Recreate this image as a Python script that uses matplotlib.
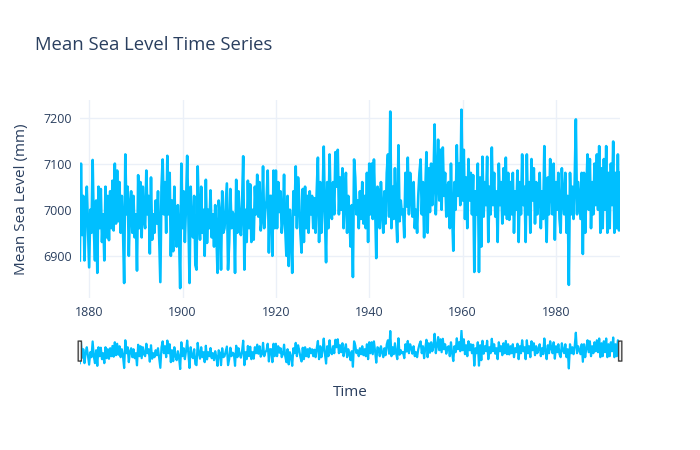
import matplotlib.pyplot as plt
import matplotlib.patches as patches
import numpy as np

plt.rcParams['font.family'] = ['Open Sans', 'DejaVu Sans']

# quarterly mean sea level (mm), one row per year
start_year = 1878
sea_level = [
    [6890, 7100, 6945, 7030],  # 1878
    [6890, 6990, 7050, 6960],
    [6875, 7000, 6950, 7108],  # 1880
    [6960, 6890, 7020, 6863],
    [7050, 6960, 7045, 6930],
    [6990, 6890, 7050, 6940],
    [7030, 6934, 7040, 6960],
    [7063, 6955, 7100, 6970],
    [7085, 6975, 7060, 6950],
    [7030, 6960, 6841, 7120],
    [6990, 7050, 6900, 7010],
    [7040, 6950, 7030, 6940],
    [6990, 6868, 7075, 6960],  # 1890
    [7060, 6940, 7050, 6980],
    [6960, 7085, 6990, 7030],
    [6905, 7070, 6935, 6990],
    [6950, 7020, 6970, 7040],
    [6940, 6843, 7050, 7109],
    [6990, 7060, 6950, 7117],
    [6990, 7080, 6900, 7020],
    [6910, 7050, 6960, 6920],
    [7010, 6950, 6830, 7100],
    [6960, 7040, 6930, 7010],  # 1900
    [7117, 6990, 6841, 7050],
    [6960, 6940, 7030, 6880],
    [6870, 7094, 6990, 6935],
    [7050, 6950, 7000, 6900],
    [7065, 6928, 7000, 6960],
    [7042, 6940, 6990, 6920],
    [7010, 6950, 6863, 7020],
    [6990, 6870, 7040, 6950],
    [6960, 7010, 7057, 6870],
    [6930, 7045, 6960, 6995],  # 1910
    [6985, 6863, 7065, 6950],
    [7040, 6980, 6945, 7010],
    [7116, 6870, 7000, 6930],
    [7063, 6960, 7055, 6930],
    [7000, 6935, 7050, 6990],
    [7076, 6985, 7060, 6955],
    [6980, 7094, 6960, 7000],
    [7020, 7085, 6907, 7030],
    [7030, 6900, 7085, 6960],
    [7085, 6960, 7060, 6995],  # 1920
    [7040, 6950, 6980, 7076],
    [6960, 6900, 7030, 6878],
    [7000, 6955, 6863, 7040],
    [6990, 7094, 6960, 7070],
    [7020, 6950, 6907, 7045],
    [6930, 7050, 6960, 7030],
    [6950, 7040, 6990, 7030],
    [6960, 7025, 6950, 7040],
    [7113, 6930, 7060, 6950],
    [7020, 7137, 6985, 6886],  # 1930
    [7060, 6960, 7120, 7000],
    [6980, 7060, 6990, 7125],
    [7050, 7130, 6990, 7070],
    [7000, 7090, 6960, 7030],
    [7080, 6950, 7030, 6980],
    [6920, 7010, 6854, 7109],
    [7070, 6990, 7020, 6960],
    [7040, 6980, 7060, 6970],
    [7030, 6960, 7080, 6930],
    [7100, 6990, 7100, 6980],  # 1940
    [7109, 7010, 6895, 7050],
    [7040, 6960, 7060, 7000],
    [6950, 7040, 6970, 7080],
    [7120, 6985, 7213, 6960],
    [7050, 6980, 7090, 6990],
    [6930, 7140, 6975, 7020],
    [6990, 7000, 6940, 7080],
    [7007, 7113, 6990, 7080],
    [7040, 6985, 7060, 6960],
    [7000, 6950, 7030, 7080],  # 1950
    [7109, 6990, 7060, 6940],
    [7040, 7125, 6950, 7090],
    [6995, 7100, 7010, 7060],
    [7185, 6990, 7060, 7152],
    [7020, 7130, 7000, 7135],
    [7030, 7080, 6985, 7050],
    [7060, 6960, 7100, 6990],
    [6911, 7060, 7000, 7140],
    [7030, 7100, 7010, 7217],
    [7020, 7130, 6980, 7070],  # 1960
    [6960, 7110, 7020, 7080],
    [6990, 7075, 6865, 7040],
    [6990, 7100, 6865, 7070],
    [6920, 7115, 6985, 7060],
    [7010, 7115, 6930, 7050],
    [6990, 7135, 7010, 7080],
    [6985, 7040, 6930, 7100],
    [7010, 7060, 6970, 7090],
    [6990, 7113, 6980, 7080],
    [6978, 7060, 6990, 7080],  # 1970
    [6950, 7040, 7000, 7085],
    [6930, 7060, 6990, 7120],
    [7010, 7050, 6930, 7120],
    [6990, 7060, 6950, 7110],
    [7020, 7090, 6970, 7060],
    [6990, 7030, 7080, 6960],
    [7040, 6980, 7138, 7010],
    [6930, 7070, 6990, 7110],
    [7040, 6990, 7100, 6935],
    [7060, 7000, 7080, 6980],  # 1980
    [6950, 7090, 7020, 6990],
    [7080, 6950, 7030, 6837],
    [7080, 6990, 7050, 6980],
    [7060, 7196, 6990, 7060],
    [7020, 6980, 7080, 6904],
    [7080, 6950, 7040, 7120],
    [7000, 7110, 6960, 7060],
    [6990, 7100, 7010, 7120],
    [7000, 7138, 6950, 7090],
    [6960, 7110, 7000, 7138],  # 1990
    [6950, 7080, 6960, 7100],
    [7010, 7148, 6950, 7080],
    [6960, 7120, 6955, 7080],  # 1993
]
x_ticks = [1880, 1900, 1920, 1940, 1960, 1980]
y_ticks = [6900, 7000, 7100, 7200]

level = np.array(sea_level).ravel()
t = start_year + np.arange(len(level)) / 4.0

text_col = "#2a3f5f"
grid_col = "#ebf0f8"
line_col = "#00bfff"

fig = plt.figure(figsize=(7, 4.5), dpi=100)

# main plot
ax = fig.add_axes([0.114, 0.338, 0.772, 0.44])
ax.plot(t, level, color=line_col, lw=1.9)
ax.set_xlim(t[0], t[-1])
ax.margins(x=0, y=0.055)
ax.set_xticks(x_ticks)
ax.set_yticks(y_ticks)
ax.grid(True, color=grid_col, lw=1)
ax.set_axisbelow(True)
for s in ax.spines.values():
    s.set_visible(False)
ax.tick_params(length=0, labelsize=9, colors=text_col, pad=6)
ax.set_ylabel("Mean Sea Level (mm)", fontsize=11, color=text_col, labelpad=10)

# range slider
ax2 = fig.add_axes([0.114, 0.178, 0.772, 0.089])
ax2.plot(t, level, color=line_col, lw=1.6)
ax2.set_xlim(t[0], t[-1])
ax2.margins(x=0, y=0.02)
ax2.axis("off")
for hx in [0.0, 1.0]:
    ax2.add_patch(patches.FancyBboxPatch((hx - 0.003, 0.22), 0.006, 0.5,
                                         boxstyle="round,pad=0,rounding_size=0.002",
                                         transform=ax2.transAxes, fc="#f2f2f2",
                                         ec="#444444", lw=1, clip_on=False, zorder=5))

fig.text(0.5, 0.12, "Time", ha="center", fontsize=11, color=text_col)
fig.text(0.05, 0.89, "Mean Sea Level Time Series", fontsize=13.3, color=text_col)

fig.savefig("out.png", dpi=100)
